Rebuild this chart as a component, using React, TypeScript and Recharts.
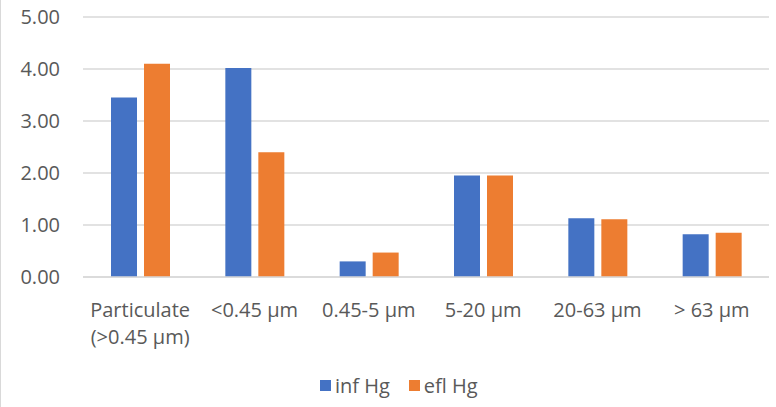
import { BarChart, Bar, XAxis, YAxis, CartesianGrid, Legend } from 'recharts'

const categories = ['Particulate\n(>0.45 µm)', '<0.45 µm', '0.45-5 µm', '5-20 µm', '20-63 µm', '> 63 µm']
const infHg = [3.45, 4.02, 0.3, 1.95, 1.13, 0.82]
const eflHg = [4.1, 2.4, 0.47, 1.95, 1.11, 0.85]
const yTicks = [0, 1, 2, 3, 4, 5]

const seriesNames = ['inf Hg', 'efl Hg']
const colors = ['#4472C4', '#ED7D31']

const data = categories.map((name, i) => ({ name, inf: infHg[i], efl: eflHg[i] }))

const FONT = '"Open Sans", sans-serif'
const TEXT = '#595959'

function CategoryTick(props: any) {
  const { x, y, payload } = props
  const lines = String(payload.value).split('\n')
  return (
    <text x={x} y={y} textAnchor="middle" fill={TEXT} fontSize={20} fontFamily={FONT}>
      {lines.map((line, i) => (
        <tspan key={i} x={x} dy={i === 0 ? 32 : 27}>
          {line}
        </tspan>
      ))}
    </text>
  )
}

function LegendContent() {
  return (
    <div style={{ display: 'flex', alignItems: 'center', fontFamily: FONT, fontSize: 20, color: TEXT }}>
      {seriesNames.map((s, i) => (
        <div key={s} style={{ display: 'flex', alignItems: 'center', marginRight: i === 0 ? 19 : 0 }}>
          <span style={{ width: 11, height: 11, background: colors[i], display: 'inline-block', marginRight: 4 }} />
          <span>{s}</span>
        </div>
      ))}
    </div>
  )
}

export default function App() {
  return (
    <div
      style={{
        position: 'absolute',
        left: 0,
        top: 0,
        width: 776,
        height: 407,
        boxSizing: 'border-box',
        borderLeft: '1px solid #d9d9d9',
        background: '#fff',
      }}
    >
      <BarChart
        width={775}
        height={407}
        data={data}
        margin={{ top: 17, right: 7, left: 0, bottom: 33 }}
        barSize={26}
        barGap={7}
      >
        <CartesianGrid vertical={false} stroke="#d9d9d9" strokeWidth={1.5} />
        <XAxis
          dataKey="name"
          height={70}
          tickLine={false}
          axisLine={{ stroke: '#d9d9d9', strokeWidth: 1.5 }}
          tick={<CategoryTick />}
          interval={0}
        />
        <YAxis
          width={82}
          domain={[0, 5]}
          ticks={yTicks}
          tickFormatter={(v: number) => v.toFixed(2)}
          tickLine={false}
          axisLine={false}
          tickSize={6}
          tickMargin={17}
          tick={{ fill: TEXT, fontSize: 20, fontFamily: FONT }}
        />
        <Legend
          content={<LegendContent />}
          wrapperStyle={{ position: 'absolute', left: 319, top: 372, width: 'auto' }}
        />
        <Bar dataKey="inf" name={seriesNames[0]} fill={colors[0]} isAnimationActive={false} />
        <Bar dataKey="efl" name={seriesNames[1]} fill={colors[1]} isAnimationActive={false} />
      </BarChart>
    </div>
  )
}
